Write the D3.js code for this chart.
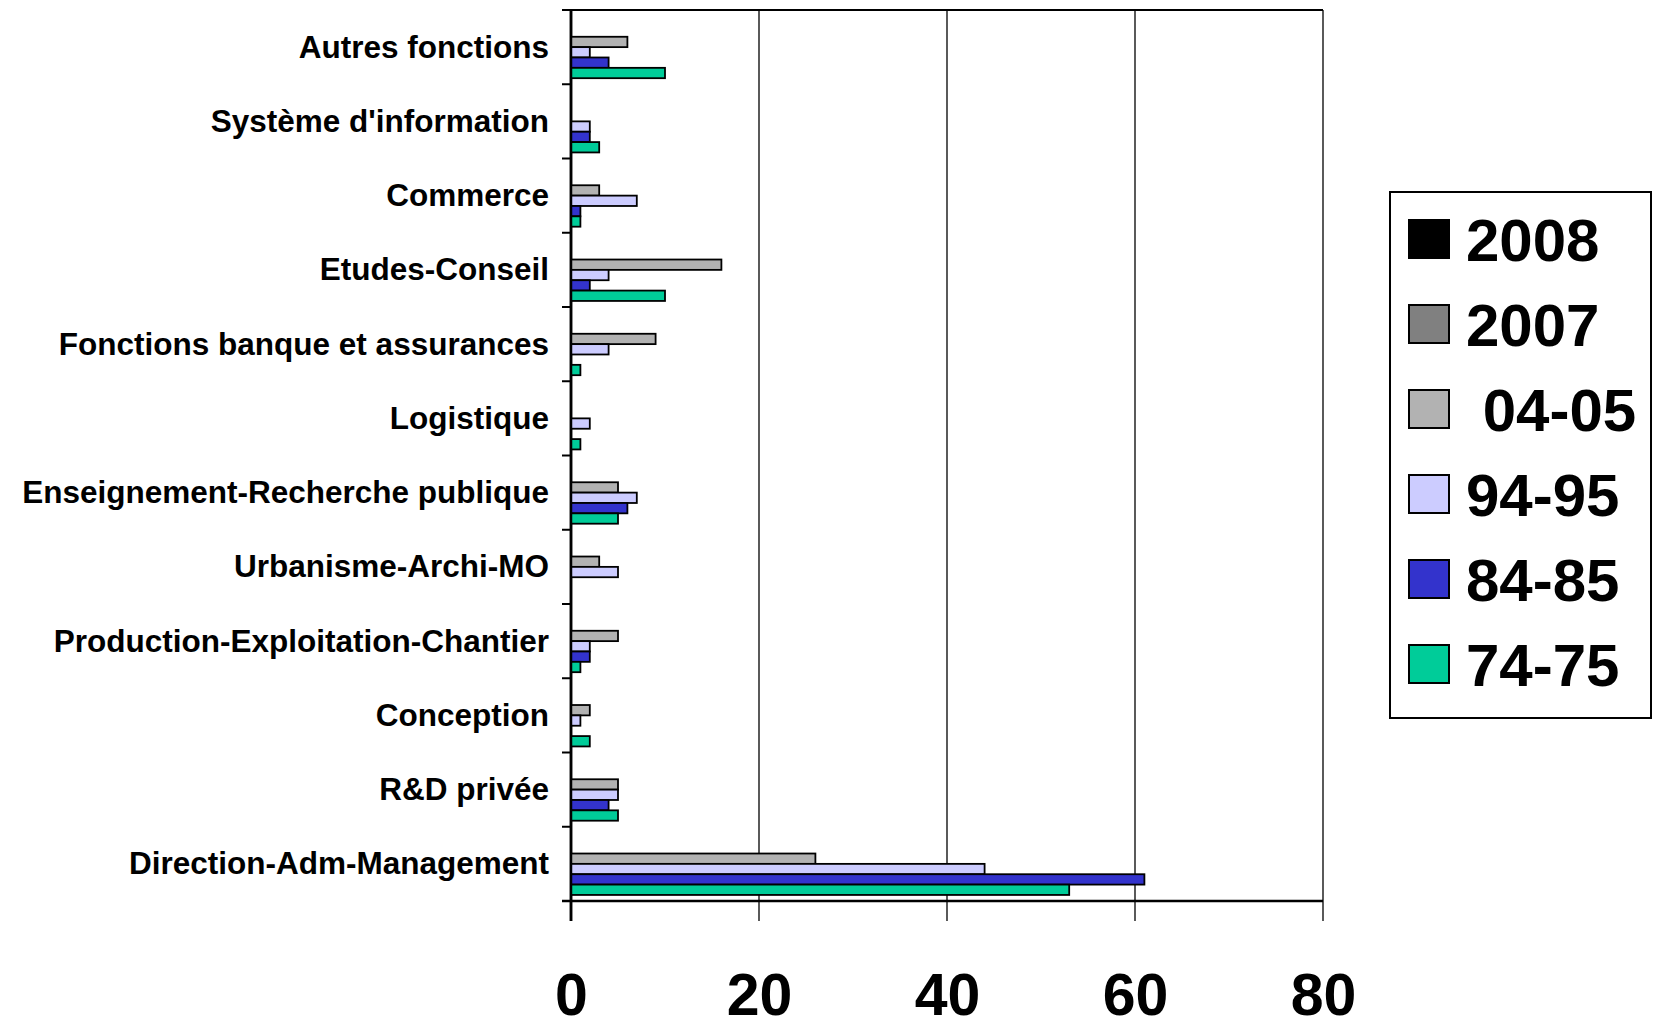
<!DOCTYPE html>
<html>
<head>
<meta charset="utf-8">
<script src="https://cdn.jsdelivr.net/npm/d3@7"></script>
<style>
  html, body { margin: 0; padding: 0; background: #fff; }
  svg { display: block; font-family: "Liberation Sans", Arial, Helvetica, sans-serif; font-weight: bold; }
</style>
</head>
<body>
<svg id="chart" width="1653" height="1022"></svg>
<script>
const categories = [
  "Autres fonctions",
  "Système d'information",
  "Commerce",
  "Etudes-Conseil",
  "Fonctions banque et assurances",
  "Logistique",
  "Enseignement-Recherche publique",
  "Urbanisme-Archi-MO",
  "Production-Exploitation-Chantier",
  "Conception",
  "R&D privée",
  "Direction-Adm-Management"
];
const seriesNames = ["2008", "2007", " 04-05", "94-95", "84-85", "74-75"];
const seriesColors = ["#000000", "#808080", "#b2b2b2", "#ccccff", "#3333cc", "#00cc99"];
const values2008 = [null, null, null, null, null, null, null, null, null, null, null, null];
const values2007 = [null, null, null, null, null, null, null, null, null, null, null, null];
const values0405 = [6, null, 3, 16, 9, null, 5, 3, 5, 2, 5, 26];
const values9495 = [2, 2, 7, 4, 4, 2, 7, 5, 2, 1, 5, 44];
const values8485 = [4, 2, 1, 2, null, null, 6, null, 2, null, 4, 61];
const values7475 = [10, 3, 1, 10, 1, 1, 5, null, 1, 2, 5, 53];
const xTicks = [0, 20, 40, 60, 80];

(function () {
const allValues = [values2008, values2007, values0405, values9495, values8485, values7475];

const svg = d3.select("#chart");
const pLeft = 571, pRight = 1323, pTop = 10, pBottom = 901;

const x = d3.scaleLinear().domain([0, 80]).range([pLeft, pRight]);
const y = d3.scaleBand().domain(categories).range([pTop, pBottom]).paddingInner(0).paddingOuter(0);
const ys = d3.scaleBand().domain(d3.range(seriesNames.length)).range([0, y.bandwidth()]).paddingInner(0).paddingOuter(0.585);

// gridlines (extend below axis as tick marks)
svg.append("g").selectAll("line").data(xTicks).join("line")
  .attr("x1", d => x(d)).attr("x2", d => x(d))
  .attr("y1", pTop).attr("y2", pBottom + 20)
  .attr("stroke", "#000").attr("stroke-width", d => d === 0 ? 2.5 : 1.3);

// top line
svg.append("line").attr("x1", pLeft - 9).attr("x2", pRight).attr("y1", pTop).attr("y2", pTop)
  .attr("stroke", "#000").attr("stroke-width", 2);

// bars
const bars = [];
categories.forEach((c, ci) => {
  allValues.forEach((arr, si) => {
    if (arr[ci] != null) bars.push({ c, si, v: arr[ci] });
  });
});
svg.append("g").selectAll("rect").data(bars).join("rect")
  .attr("x", x(0))
  .attr("y", d => y(d.c) + ys(d.si))
  .attr("width", d => x(d.v) - x(0))
  .attr("height", ys.bandwidth())
  .attr("fill", d => seriesColors[d.si])
  .attr("stroke", "#000").attr("stroke-width", 1.8);

// y axis
const yAxis = d3.axisLeft(y).tickSize(0).tickPadding(22);
const gy = svg.append("g").attr("transform", `translate(${pLeft},0)`).call(yAxis);
gy.select(".domain").remove();
gy.selectAll("text").attr("font-size", 31.5).attr("font-weight", "bold").attr("fill", "#000")
  .attr("font-family", "'Liberation Sans', Arial, sans-serif").attr("dy", "0.33em");
// category boundary ticks
const bounds = categories.map(c => y(c)).concat([pBottom]);
svg.append("g").selectAll("line").data(bounds).join("line")
  .attr("x1", pLeft - 9).attr("x2", pLeft).attr("y1", d => d).attr("y2", d => d)
  .attr("stroke", "#000").attr("stroke-width", 2);
svg.append("line").attr("x1", pLeft).attr("x2", pLeft).attr("y1", pTop).attr("y2", pBottom + 20)
  .attr("stroke", "#000").attr("stroke-width", 2.5);

// x axis line
svg.append("line").attr("x1", pLeft - 9).attr("x2", pRight).attr("y1", pBottom).attr("y2", pBottom)
  .attr("stroke", "#000").attr("stroke-width", 2.5);

// x tick labels
const xAxis = d3.axisBottom(x).tickValues(xTicks).tickSize(0).tickPadding(0);
const gx = svg.append("g").attr("transform", `translate(0,${pBottom})`).call(xAxis);
gx.select(".domain").remove();
gx.selectAll("text").attr("font-size", 59).attr("font-weight", "bold").attr("fill", "#000")
  .attr("font-family", "'Liberation Sans', Arial, sans-serif")
  .attr("y", 114).attr("dy", 0);

// legend
const lg = svg.append("g");
lg.append("rect").attr("x", 1390).attr("y", 192).attr("width", 261).attr("height", 526)
  .attr("fill", "#fff").attr("stroke", "#000").attr("stroke-width", 2);
const rowY = d3.scalePoint().domain(d3.range(seriesNames.length)).range([239, 664]);
const items = lg.selectAll("g.item").data(seriesNames).join("g").attr("class", "item")
  .attr("transform", (d, i) => `translate(0,${rowY(i)})`);
items.append("rect").attr("x", 1409).attr("y", -19).attr("width", 40).attr("height", 38)
  .attr("fill", (d, i) => seriesColors[i]).attr("stroke", "#000").attr("stroke-width", 2);
items.append("text").attr("x", 1466).attr("y", 0).attr("dy", "0.37em")
  .attr("font-size", 60).attr("font-weight", "bold").attr("fill", "#000")
  .style("white-space", "pre").attr("xml:space", "preserve")
  .text(d => d);
})();
</script>
</body>
</html>
